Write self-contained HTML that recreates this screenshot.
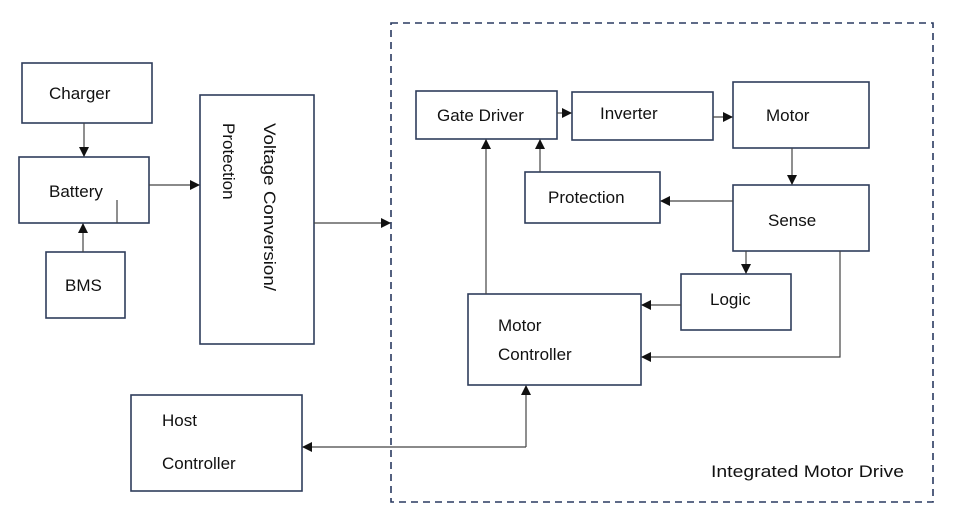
<!DOCTYPE html>
<html><head><meta charset="utf-8"><style>
html,body{margin:0;padding:0;background:#fff;}
svg{display:block;}
text{font-family:"Liberation Sans",sans-serif;font-size:17px;fill:#111;}
</style></head><body>
<svg width="954" height="515" viewBox="0 0 954 515" xmlns="http://www.w3.org/2000/svg">
<defs>
<marker id="a" markerWidth="10" markerHeight="10" refX="9" refY="5" orient="auto" markerUnits="userSpaceOnUse">
<path d="M0,0 L10,5 L0,10 z" fill="#111"/></marker>
</defs>
<g fill="none" stroke="#2f3d5c" stroke-width="1.6">
<rect x="22" y="63" width="130" height="60"/>
<rect x="19" y="157" width="130" height="66"/>
<rect x="46" y="252" width="79" height="66"/>
<rect x="200" y="95" width="114" height="249"/>
<rect x="131" y="395" width="171" height="96"/>
<rect x="391" y="23" width="542" height="479" stroke-dasharray="7,5" stroke="#2a3a60"/>
<rect x="416" y="91" width="141" height="48"/>
<rect x="572" y="92" width="141" height="48"/>
<rect x="733" y="82" width="136" height="66"/>
<rect x="525" y="172" width="135" height="51"/>
<rect x="733" y="185" width="136" height="66"/>
<rect x="681" y="274" width="110" height="56"/>
<rect x="468" y="294" width="173" height="91"/>
</g>
<g stroke="#444" stroke-width="1.2" fill="none">
<line x1="84" y1="123" x2="84" y2="156" marker-end="url(#a)"/>
<line x1="83" y1="252" x2="83" y2="224" marker-end="url(#a)"/>
<line x1="117" y1="200" x2="117" y2="223"/>
<line x1="149" y1="185" x2="199" y2="185" marker-end="url(#a)"/>
<line x1="314" y1="223" x2="390" y2="223" marker-end="url(#a)"/>
<line x1="557" y1="113" x2="571" y2="113" marker-end="url(#a)"/>
<line x1="713" y1="117" x2="732" y2="117" marker-end="url(#a)"/>
<line x1="792" y1="148" x2="792" y2="184" marker-end="url(#a)"/>
<line x1="733" y1="201" x2="661" y2="201" marker-end="url(#a)"/>
<line x1="540" y1="172" x2="540" y2="140" marker-end="url(#a)"/>
<line x1="486" y1="294" x2="486" y2="140" marker-end="url(#a)"/>
<line x1="746" y1="251" x2="746" y2="273" marker-end="url(#a)"/>
<line x1="681" y1="305" x2="642" y2="305" marker-end="url(#a)"/>
<polyline points="840,251 840,357 642,357" marker-end="url(#a)"/>
<polyline points="526,447 526,386" marker-end="url(#a)"/>
<line x1="526" y1="447" x2="303" y2="447" marker-end="url(#a)"/>
</g>
<text x="49" y="99">Charger</text>
<text x="49" y="197">Battery</text>
<text x="65" y="291">BMS</text>
<text transform="translate(264,123) rotate(90)" textLength="168" lengthAdjust="spacingAndGlyphs">Voltage Conversion/</text>
<text transform="translate(223,123) rotate(90)">Protection</text>
<text x="437" y="121">Gate Driver</text>
<text x="600" y="119">Inverter</text>
<text x="766" y="121">Motor</text>
<text x="548" y="203">Protection</text>
<text x="768" y="226">Sense</text>
<text x="710" y="305">Logic</text>
<text x="498" y="331">Motor</text>
<text x="498" y="360">Controller</text>
<text x="162" y="426">Host</text>
<text x="162" y="469">Controller</text>
<text x="711" y="477" textLength="193" lengthAdjust="spacingAndGlyphs">Integrated Motor Drive</text>
</svg>
</body></html>
